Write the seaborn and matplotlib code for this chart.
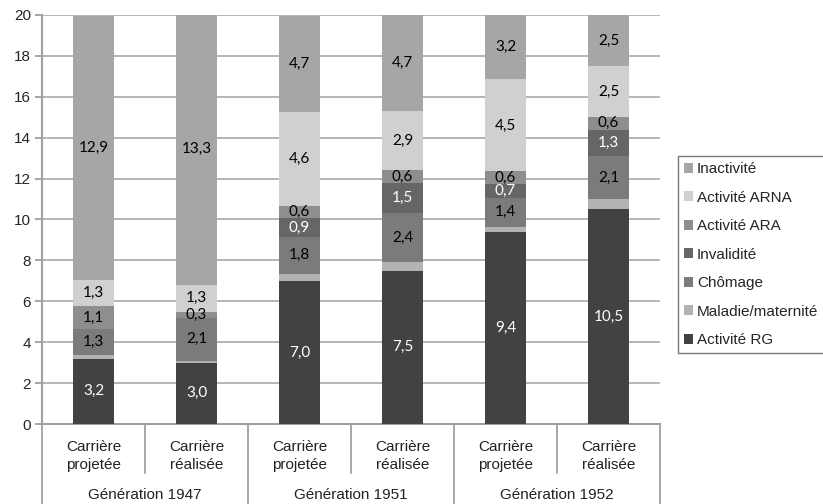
import matplotlib
matplotlib.use('Agg')
import matplotlib.pyplot as plt
import seaborn as sns
import numpy as np
from matplotlib.lines import Line2D

# data, stacking order bottom -> top
bars = ["Carrière\nprojetée", "Carrière\nréalisée"] * 3
generations = ["Génération 1947", "Génération 1951", "Génération 1952"]
series = ["Activité RG", "Maladie/maternité", "Chômage", "Invalidité",
          "Activité ARA", "Activité ARNA", "Inactivité"]
activite_rg = [3.2, 3.0, 7.0, 7.5, 9.4, 10.5]
maladie = [0.15, 0.1, 0.35, 0.4, 0.25, 0.5]
chomage = [1.3, 2.1, 1.8, 2.4, 1.4, 2.1]
invalidite = [0.0, 0.0, 0.9, 1.5, 0.7, 1.3]
activite_ara = [1.1, 0.3, 0.6, 0.6, 0.6, 0.6]
activite_arna = [1.3, 1.3, 4.6, 2.9, 4.5, 2.5]
inactivite = [12.9, 13.3, 4.7, 4.7, 3.2, 2.5]
values = [activite_rg, maladie, chomage, invalidite, activite_ara, activite_arna, inactivite]

colors = ["#424242", "#b3b3b5", "#7b7b7b", "#666666", "#8e8e8e", "#d0d0d2", "#a6a6a8"]
label_colors = ["white", None, "black", "white", "black", "black", "black"]

sns.set_theme(style="white")
plt.rcParams['font.family'] = ['Liberation Sans', 'DejaVu Sans']

fig = plt.figure(figsize=(8.23, 5.04), dpi=100)
ax = fig.add_axes([42 / 823, 1 - 424 / 504, (660 - 42) / 823, (424 - 15) / 504])

x = np.arange(len(bars))
bottom = np.zeros(len(bars))
handles = []
for name, vals, col, lc in zip(series, values, colors, label_colors):
    vals = np.array(vals)
    b = ax.bar(x, vals, width=0.4, bottom=bottom, color=col, label=name, zorder=3, linewidth=0)
    handles.append(b)
    if lc is not None:
        for xi, v, b0 in zip(x, vals, bottom):
            if v > 0:
                ax.text(xi, b0 + v / 2, f"{v:.1f}".replace(".", ","), ha="center", va="center",
                        color=lc, fontsize=11, family=['Lato', 'DejaVu Sans'], zorder=4)
    bottom += vals

ax.set_xlim(-0.5, len(bars) - 0.5)
ax.set_ylim(0, 20)
ax.set_yticks(range(0, 21, 2))
ax.yaxis.grid(True, color="#b0b0b0", linewidth=1.3, zorder=0)
ax.set_xticks([])
for s in ["top", "right"]:
    ax.spines[s].set_visible(False)
for s in ["left", "bottom"]:
    ax.spines[s].set_color("#a0a0a0")
    ax.spines[s].set_linewidth(1.5)
ax.tick_params(axis="y", length=5, width=1.3, color="#a0a0a0", labelsize=11, pad=3, left=True)

# two level category axis
trans = ax.get_xaxis_transform()
ax_h = (424 - 15)
def yfrac(px):
    return -(px - 424) / ax_h

for i, lab in enumerate(bars):
    ax.text(i, yfrac(456), lab, transform=trans, ha="center", va="center",
            fontsize=11, linespacing=1.3, color="#222222")
for g, lab in enumerate(generations):
    ax.text(2 * g + 0.5, yfrac(495), lab, transform=trans, ha="center", va="center",
            fontsize=11, color="#222222")
for k in range(len(bars) + 1):
    xe = k - 0.5
    low = yfrac(504) if k % 2 == 0 else yfrac(473)
    ax.add_line(Line2D([xe, xe], [0, low], transform=trans, color="#a0a0a0",
                       linewidth=1.3, clip_on=False))

leg = ax.legend(handles[::-1], series[::-1], loc="upper left", bbox_to_anchor=(678 / 823, 1 - 156 / 504),
                bbox_transform=fig.transFigure, frameon=True, fancybox=False, fontsize=11,
                handlelength=0.6, handleheight=0.6, handletextpad=0.25, labelspacing=0.95,
                borderpad=0.4, borderaxespad=0)
leg.get_frame().set_edgecolor("#555555")
leg.get_frame().set_linewidth(1.0)

fig.savefig("out.png", dpi=100)
